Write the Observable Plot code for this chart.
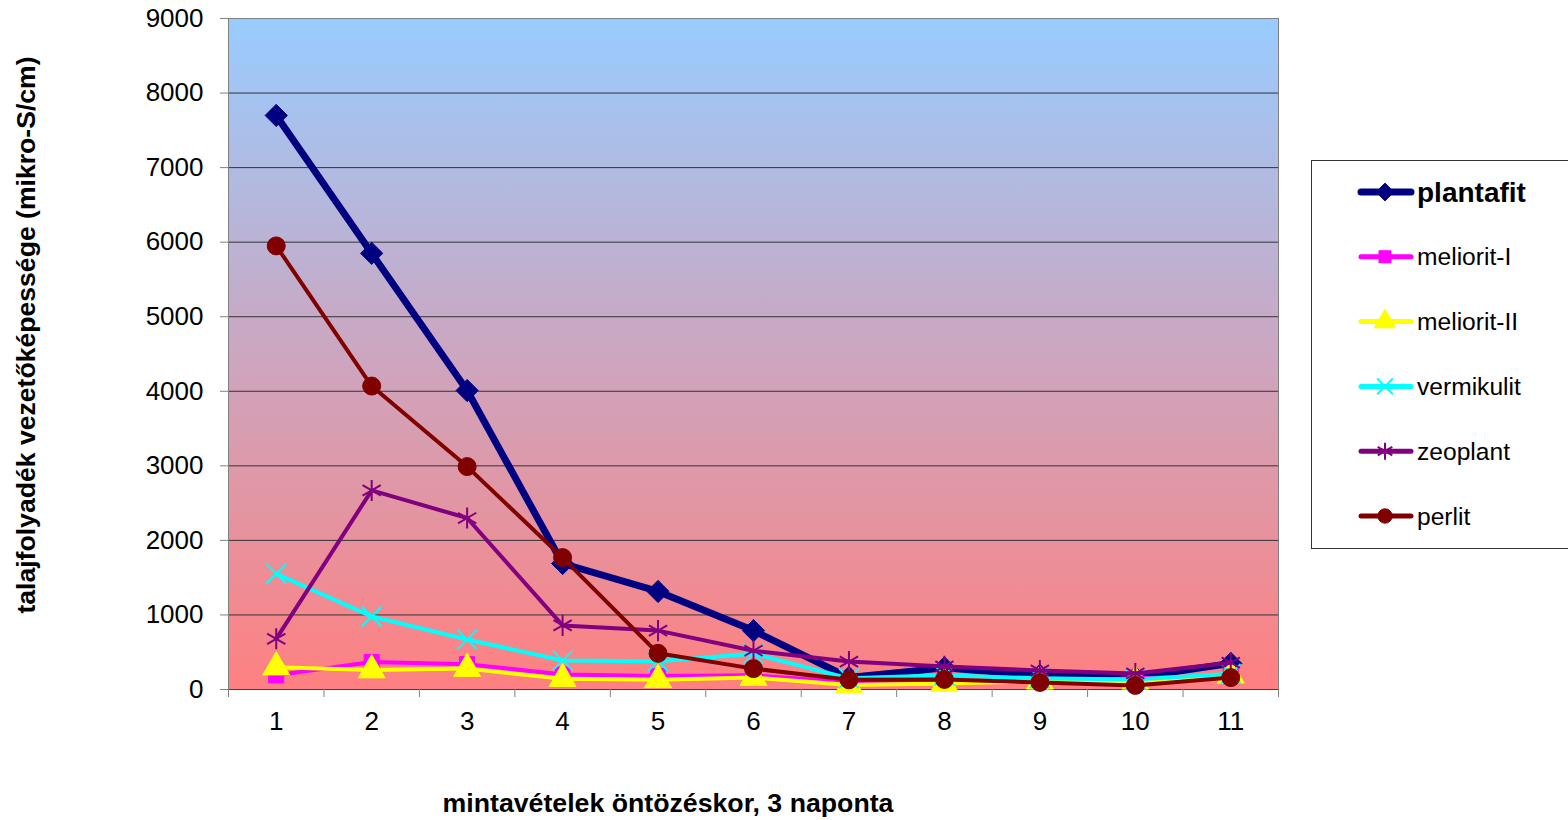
<!DOCTYPE html>
<html><head><meta charset="utf-8">
<script src="https://cdn.jsdelivr.net/npm/d3@7"></script>
<script src="https://cdn.jsdelivr.net/npm/@observablehq/plot@0.6"></script>
<style>
body{margin:0;background:#fff;font-family:Arial,"Liberation Sans",sans-serif}
#wrap{position:relative;width:1568px;height:820px;overflow:hidden}
#legend{position:absolute;left:1311px;top:160px}
</style>
</head><body><div id="wrap"></div>
<script>
const samples = [1,2,3,4,5,6,7,8,9,10,11];
const seriesNames = ["plantafit","meliorit-I","meliorit-II","vermikulit","zeoplant","perlit"];
const plantafit  = [7700,5850,4010,1690,1315,790,160,290,190,160,350];
const meliorit1  = [190,370,340,200,180,190,100,120,100,150,180];
const meliorit2  = [300,260,280,145,130,160,60,80,110,110,190];
const vermikulit = [1550,980,670,390,380,480,150,190,150,135,210];
const zeoplant   = [680,2670,2300,860,790,520,375,310,255,215,360];
const perlit     = [5950,4070,2990,1770,485,280,130,135,95,55,160];
const yTicks = [0,1000,2000,3000,4000,5000,6000,7000,8000,9000];
const xTitle = "mintavételek öntözéskor, 3 naponta";
const yTitle = "talajfolyadék vezetőképessége (mikro-S/cm)";

const valuesBySeries = [plantafit, meliorit1, meliorit2, vermikulit, zeoplant, perlit];
const styles = [
  {color:"#000080", width:7, symbol:"diamond2", r:10, filled:true},
  {color:"#FF00FF", width:4, symbol:"square", r:8.5, filled:true},
  {color:"#FFFF00", width:4, symbol:"triangle", r:10, filled:true},
  {color:"#00FFFF", width:4, symbol:"times", r:9, filled:false},
  {color:"#800080", width:4, symbol:"asterisk", r:10, filled:false},
  {color:"#800000", width:4, symbol:"circle", r:9, filled:true}
];
const table = seriesNames.map((name, i) =>
  samples.map((s, j) => ({series:name, sample:s, value:valuesBySeries[i][j]})));
const bounds = d3.range(0.5, 12, 1);

const seriesMarks = table.flatMap((data, i) => {
  const st = styles[i];
  return [
    Plot.line(data, {x:"sample", y:"value", stroke:st.color, strokeWidth:st.width, strokeLinejoin:"round"}),
    Plot.dot(data, {x:"sample", y:"value", symbol:() => st.symbol, r:st.r,
      fill: st.filled ? st.color : "none", stroke: st.color, strokeWidth: st.filled ? 1 : 2})
  ];
});

const chart = Plot.plot({
  width:1568, height:820,
  marginLeft:228, marginRight:290, marginTop:18, marginBottom:131,
  style:{fontFamily:"Arial, 'Liberation Sans', sans-serif", fontSize:"26px", color:"#000", background:"transparent", overflow:"visible"},
  x:{type:"linear", domain:[0.5, 11.5]},
  y:{domain:[0, 9000]},
  symbol:{type:"identity"},
  marks:[
    Plot.frame({fill:"url(#bg)", stroke:"none"}),
    Plot.ruleY(yTicks.filter(d => d > 0 && d < 9000), {stroke:"#333", strokeWidth:1}),
    Plot.frame({stroke:"#808080"}),
    Plot.ruleY([0], {stroke:"#404040"}),
    Plot.axisY({ticks:yTicks, tickSize:8, tickPadding:17, label:null, stroke:"#808080", fill:"#000", fontSize:26, tickFormat:d => String(d)}),
    Plot.axisX({ticks:samples, tickSize:0, tickPadding:22, label:null, fill:"#000", fontSize:26, tickFormat:d => String(d)}),
    Plot.axisX({ticks:bounds, tickSize:8, tickFormat:() => "", label:null, stroke:"#808080"}),
    ...seriesMarks
  ]
});

const svg = d3.select(chart);
const defs = svg.insert("defs", ":first-child");
const g = defs.append("linearGradient").attr("id","bg").attr("x1",0).attr("y1",0).attr("x2",0).attr("y2",1);
g.append("stop").attr("offset","0%").attr("stop-color","#99CCFF");
g.append("stop").attr("offset","100%").attr("stop-color","#FF8080");

svg.append("text").attr("x",668).attr("y",812).attr("text-anchor","middle")
  .attr("font-weight","bold").attr("font-size",26.7).attr("fill","#000").text(xTitle);
svg.append("text").attr("transform","translate(26,335) rotate(-90)").attr("text-anchor","middle")
  .attr("dominant-baseline","central").attr("font-weight","bold").attr("font-size",26.6).attr("fill","#000").text(yTitle);

const wrap = document.getElementById("wrap");
wrap.appendChild(chart);

// legend
const symMap = {diamond2:d3.symbolDiamond2, square:d3.symbolSquare, triangle:d3.symbolTriangle,
  times:d3.symbolTimes, asterisk:d3.symbolAsterisk, circle:d3.symbolCircle};
const leg = d3.select(wrap).append("div").attr("id","legend")
  .append("svg").attr("width",260).attr("height",390);
leg.append("rect").attr("x",0.5).attr("y",0.5).attr("width",300).attr("height",388)
  .attr("fill","#fff").attr("stroke","#333");
seriesNames.forEach((name, i) => {
  const st = styles[i];
  const cy = 32 + i * 64.8;
  const it = leg.append("g").attr("transform", `translate(0,${cy})`);
  it.append("line").attr("x1",50).attr("x2",100).attr("stroke",st.color)
    .attr("stroke-width", i === 0 ? 7 : 5).attr("stroke-linecap","round");
  const r = st.r * 0.8;
  it.append("path").attr("transform","translate(74,0)")
    .attr("d", d3.symbol(symMap[st.symbol], r * r * Math.PI)())
    .attr("fill", st.filled ? st.color : "none").attr("stroke", st.color).attr("stroke-width", st.filled ? 1 : 2);
  it.append("text").attr("x",106).attr("dominant-baseline","central")
    .attr("font-size", i === 0 ? 28 : 24.6).attr("font-weight", i === 0 ? "bold" : "normal")
    .attr("fill","#000").text(name);
});
</script>
</body></html>
